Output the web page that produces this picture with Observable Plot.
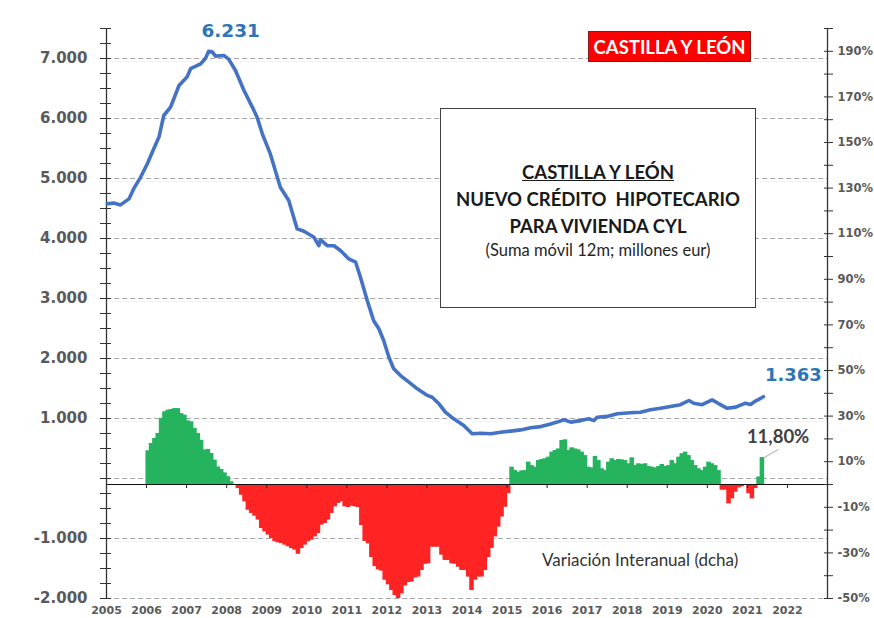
<!DOCTYPE html>
<html><head><meta charset="utf-8">
<script src="https://cdn.jsdelivr.net/npm/d3@7"></script>
<script src="https://cdn.jsdelivr.net/npm/@observablehq/plot@0.6"></script>
<style>
html,body{margin:0;padding:0;background:#fff;overflow:hidden}
#wrap{position:relative;width:874px;height:618px;overflow:hidden}
#wrap svg{position:absolute;left:0;top:0}
.tag{position:absolute;left:588px;top:31px;width:161px;height:29px;background:#ff0000;border:1px solid #8a1a1a;color:#fff;font:bold 18.5px Lato,"Open Sans",sans-serif;display:flex;align-items:center;justify-content:center}
.box{position:absolute;left:440px;top:108px;width:316px;height:200px;background:#fff;border:1.5px solid #404040;font-family:Lato,"Open Sans",sans-serif;color:#1a1a1a;text-align:center;box-sizing:border-box}
.box .l{position:absolute;left:0;width:100%;font-weight:bold;font-size:18.5px;white-space:pre;line-height:22px}
.box .s{position:absolute;left:0;width:100%;font-size:16.5px;color:#262626;line-height:20px}
.varlab{position:absolute;left:542px;top:549px;font:17px Lato,"Open Sans",sans-serif;color:#333}
</style></head><body><div id="wrap"></div>
<script>
// ---- data ----
const lineYears = [2005.02,2005.18,2005.35,2005.56,2005.68,2005.85,2006.02,2006.18,2006.31,2006.43,2006.60,2006.81,2007.01,2007.10,2007.35,2007.47,2007.55,2007.64,2007.72,2007.93,2008.05,2008.22,2008.43,2008.64,2008.76,2008.89,2009.09,2009.34,2009.55,2009.76,2009.93,2010.18,2010.30,2010.34,2010.51,2010.68,2010.84,2011.05,2011.22,2011.34,2011.51,2011.67,2011.80,2011.92,2012.05,2012.17,2012.34,2012.55,2012.76,2013.01,2013.13,2013.30,2013.46,2013.67,2013.92,2014.13,2014.34,2014.59,2014.84,2015.09,2015.34,2015.59,2015.84,2016.09,2016.25,2016.42,2016.59,2016.84,2017.04,2017.17,2017.25,2017.50,2017.75,2018.08,2018.33,2018.58,2018.83,2019.08,2019.33,2019.54,2019.66,2019.87,2020.12,2020.29,2020.50,2020.71,2020.95,2021.08,2021.20,2021.40];
const lineValues = [4580,4590,4560,4660,4830,5020,5245,5495,5690,6050,6190,6550,6690,6830,6910,7000,7120,7110,7040,7050,6990,6800,6470,6190,6020,5745,5410,4855,4633,4160,4120,4020,3880,3980,3880,3880,3800,3660,3605,3355,2965,2630,2495,2300,2020,1830,1715,1605,1495,1385,1355,1245,1105,995,885,745,755,745,770,790,810,845,865,910,940,980,940,965,995,965,1020,1035,1080,1095,1105,1145,1170,1200,1230,1300,1255,1230,1310,1245,1170,1190,1255,1235,1290,1363];
// monthly year-on-year variation (%), from Jan 2006
const barStartYear = 2006;
const barValues = [
 14.8,18.0,20.2,22.4,29,31.9,32.6,32.9,33.3,33.3,31.1,30.4,
 27.9,27.5,24.6,22.4,19.4,15.1,15.4,13.6,10.7,7.7,6.6,5.1,
 3.4,1.2,-0.3,-1.8,-4.7,-7.6,-11.3,-12.7,-13.9,-15.6,-19.3,-20.8,
 -22.2,-23.7,-25.1,-25.6,-25.9,-26.6,-27.3,-28.1,-28.8,-30.6,-28.1,-26.6,
 -25.1,-24.4,-23,-21.5,-17.8,-17.1,-15.6,-12.7,-9.8,-8.3,-7.6,-9.8,
 -10.1,-9.5,-9.8,-10.1,-18,-25,-26,-32,-36,-37.5,-38,-42,
 -44,-46.5,-48.7,-50,-48,-44.5,-43,-42.8,-41,-40.6,-37.7,-35,
 -34.8,-27.5,-27.5,-27.5,-31,-33.3,-33.3,-34.8,-35,-36.3,-37.7,-37.7,
 -40.6,-46.5,-42,-40.6,-40.6,-37.7,-32,-28,-23,-18.7,-14.3,-10,
 -4,7.6,6.1,5.4,6.0,6.1,9.8,8.3,7.6,10.5,11,11.3,
 12,14.2,14.9,15.6,19.3,19.6,14.9,16.1,15.6,15.2,14.2,12.7,
 7.6,7.3,12.3,10.5,6.9,6.1,9.8,11.3,10.5,11,10.8,10.5,
 9.1,11.7,8.3,9.1,8.8,9.1,7.9,7.6,7.3,7.9,8.8,7.9,
 8.3,10.5,9.1,12,13.5,14.2,12.7,10.5,8.3,6.9,6.1,7.6,
 9.8,9.1,8.3,6.1,-2.5,-2.5,-8.5,-6.3,-3.4,-1.5,-1.0,-0.3,
 -4,-6.3,-1.8,3.3,11.8];
const leftDomain = [-2000, 7500];
const rightDomain = [-50, 200];
const leftGrid = [-2000,-1000,0,1000,2000,3000,4000,5000,6000,7000];
const leftLabels = [-2000,-1000,1000,2000,3000,4000,5000,6000,7000];
const leftMinor = d3.range(-2000, 7501, 250);
const rightLabels = [190,170,150,130,110,90,70,50,30,10,-10,-30,-50];
const rightMinor = d3.range(-50, 201, 10);
const yearTicks = d3.range(2005, 2023);
const peakLabel = "6.231", lastLabel = "1.363", lastBarLabel = "11,80%";
const xDomain = [2005, 2023];

// ---- helpers ----
const k = (leftDomain[1]-leftDomain[0])/(rightDomain[1]-rightDomain[0]);
const toLeft = p => leftDomain[0] + (p - rightDomain[0]) * k;
const fromLeft = v => (v - leftDomain[0]) / k + rightDomain[0];
const fmtL = v => (v < 0 ? "-" : "") + d3.format(",")(Math.abs(v)).replace(/,/g, ".");
const fmtR = v => { const p = Math.round(fromLeft(v)); return (p < 0 ? "-" : "") + Math.abs(p) + "%"; };

const line = lineYears.map((x, i) => ({x, v: lineValues[i]}));
const bars = barValues.map((p, i) => ({x1: barStartYear + i/12, x2: barStartYear + (i+1)/12, p}));
const green = "#25b35e", red = "#ff2424";
const peak = line[d3.maxIndex(line, d => d.v)];
const last = line[line.length - 1];
const lastBar = bars[bars.length - 1];
const axisFont = "DejaVu Sans";

const chart = Plot.plot({
  width: 874, height: 618,
  marginLeft: 106, marginRight: 47, marginTop: 28, marginBottom: 20,
  x: {domain: xDomain, axis: null},
  y: {domain: leftDomain, axis: null},
  color: {type: "identity"},
  marks: [
    Plot.ruleY(leftGrid, {stroke: "#a6a6a6", strokeDasharray: "5,3", strokeWidth: 1}),
    Plot.rect(bars, {x1: "x1", x2: "x2", y1: toLeft(0), y2: d => toLeft(d.p), insetLeft: -0.6, insetRight: -0.6, fill: d => d.p >= 0 ? green : red}),
    Plot.ruleY([toLeft(0)], {stroke: "#111", strokeWidth: 1.2}),
    Plot.ruleX(yearTicks, {y1: toLeft(0), y2: toLeft(0), insetBottom: -4, stroke: "#222"}),
    Plot.ruleX([xDomain[0]], {y1: leftDomain[0], y2: leftDomain[1], stroke: "#333", strokeWidth: 1.3}),
    Plot.ruleX([xDomain[1]], {y1: leftDomain[0], y2: leftDomain[1], stroke: "#333", strokeWidth: 1.3}),
    Plot.axisY(leftMinor, {anchor: "left", tickSize: 11, dx: 5, tickFormat: () => "", color: "#333", label: null}),
    Plot.axisY(leftLabels, {anchor: "left", tickSize: 0, tickPadding: 19, tickFormat: fmtL, fontSize: 15, fontWeight: "bold", fontFamily: axisFont, color: "#595959", label: null}),
    Plot.axisY(rightMinor.map(toLeft), {anchor: "right", tickSize: 9, dx: -4, tickFormat: () => "", color: "#333", label: null}),
    Plot.axisY(rightLabels.map(toLeft), {anchor: "right", tickSize: 0, tickPadding: 10, tickFormat: fmtR, fontSize: 11.5, fontWeight: "bold", fontFamily: axisFont, color: "#595959", label: null}),
    Plot.axisX(yearTicks, {anchor: "bottom", tickSize: 0, tickPadding: 8, tickFormat: d => String(d), fontSize: 11, fontWeight: "bold", fontFamily: axisFont, color: "#595959", label: null}),
    Plot.line(line, {x: "x", y: "v", stroke: "#4472c4", strokeWidth: 3.6, strokeLinejoin: "round"}),
    Plot.text([peak], {x: "x", y: "v", text: () => peakLabel, dx: 22, dy: -20, fill: "#2e75b6", fontSize: 18.5, fontWeight: "bold", fontFamily: axisFont}),
    Plot.text([last], {x: "x", y: "v", text: () => lastLabel, dx: 30, dy: -21, fill: "#2e75b6", fontSize: 18, fontWeight: "bold", fontFamily: axisFont}),
    Plot.vector([lastBar], {x: "x2", y: d => toLeft(d.p), length: 16, rotate: 60, anchor: "start", r: 0.001, stroke: "#a6a6a6", strokeWidth: 1}),
    Plot.text([lastBar], {x: "x2", y: d => toLeft(d.p), text: () => lastBarLabel, dx: 14, dy: -21, fill: "#404040", fontSize: 18.5, fontWeight: "bold", fontFamily: "Lato"})
  ]
});
const wrap = document.getElementById("wrap");
wrap.appendChild(chart);
wrap.insertAdjacentHTML("beforeend", `
<div class="tag">CASTILLA Y LEÓN</div>
<div class="box">
  <div class="l" style="top:52px"><span style="text-decoration:underline">CASTILLA Y LEÓN</span></div>
  <div class="l" style="top:79px">NUEVO CRÉDITO  HIPOTECARIO</div>
  <div class="l" style="top:106px">PARA VIVIENDA CYL</div>
  <div class="s" style="top:131px">(Suma móvil 12m; millones eur)</div>
</div>
<div class="varlab">Variación Interanual (dcha)</div>`);
</script></body></html>
